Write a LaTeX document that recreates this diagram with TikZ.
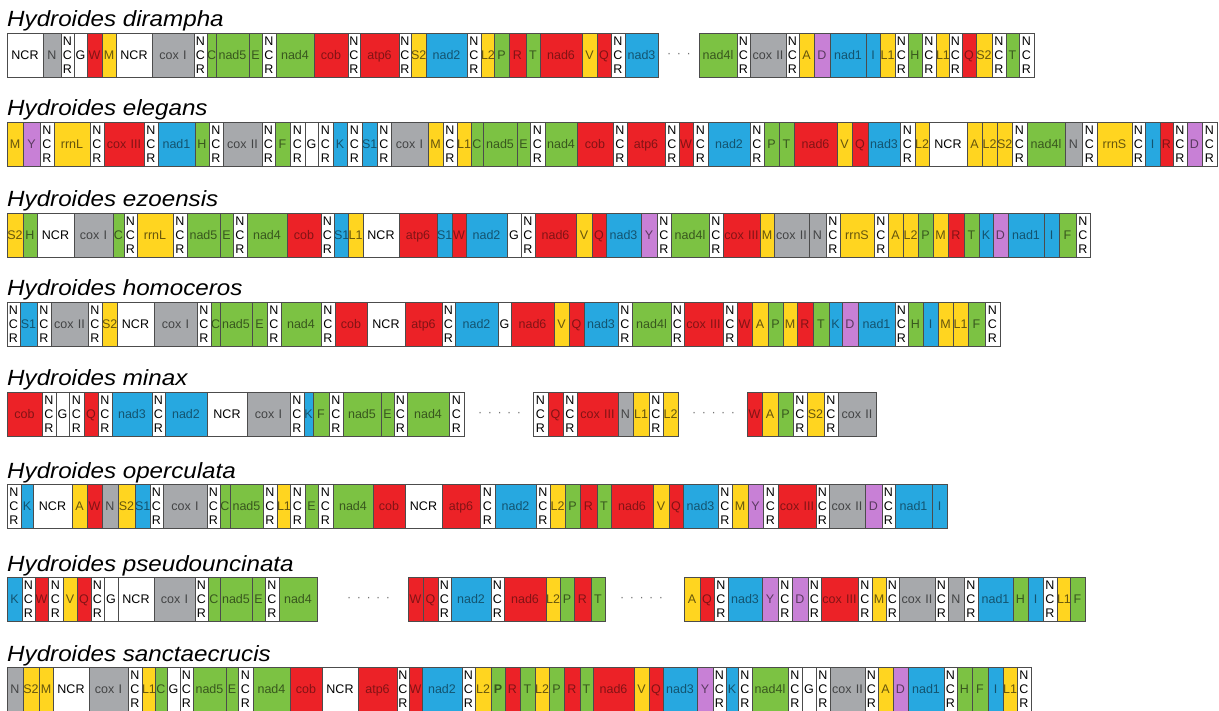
\documentclass[tikz,border=0pt]{standalone}
\usepackage{fontspec}
\setmainfont{Liberation Sans}
\usepackage{graphicx}
\usepackage{xcolor}
\usepackage{tikz}
\usetikzlibrary{positioning}
\definecolor{gcy}{HTML}{FFD520}
\definecolor{gcg}{HTML}{7CC243}
\definecolor{gcr}{HTML}{EC2227}
\definecolor{gcb}{HTML}{27A8E0}
\definecolor{gck}{HTML}{A7A9AC}
\definecolor{gcp}{HTML}{C880D6}
\definecolor{gcw}{HTML}{FFFFFF}
\colorlet{gcn}{gcw}
\colorlet{tcy}{gcy!40!black}
\colorlet{tcg}{gcg!45!black}
\colorlet{tcr}{gcr!55!black}
\colorlet{tcb}{gcb!50!black}
\colorlet{tck}{gck!40!black}
\colorlet{tcp}{gcp!45!black}
\colorlet{tcw}{black}
\colorlet{tcn}{black}
\colorlet{edge}{black!70}
\newcommand\genefont{\fontsize{12.5}{14}\selectfont}
\newcommand\ncr{N\\C\\R}
\newcommand\species[1]{\scalebox{1.1}[1]{#1}}
\newcommand\generow[3]{%
  \coordinate (#1-0) at #2;
  \foreach \gw/\gt/\gl [count=\i, remember=\i as \j (initially 0)] in {#3}
    \node[gene/.expand once=\gt, minimum width=\gw pt, text width=\gw pt, right=0pt of #1-\j] (#1-\i) {\gl};
}

\begin{document}
\begin{tikzpicture}[x=1pt,y=1pt]
    \tikzset{gene/.style={draw=edge,line width=0.8pt,fill=gc#1,text=tc#1,minimum height=44pt,inner sep=0pt,outer sep=0pt,
                          align=center,font=\genefont,text height=9pt,text depth=0pt,gene #1/.try},
             gene n/.style={text depth=28pt},
             title/.style={anchor=base west,inner sep=0pt,font=\fontsize{22}{26}\selectfont\itshape},
             gap/.style={inner sep=0pt,font=\genefont,text=black!55}}
    \useasboundingbox (0,0) rectangle (1219,-711);

    \node[title] (dira-t) at (7,-27) {\species{Hydroides dirampha}};
    \generow{dira}{(7,-55)}{36/w/NCR,18/k/N,13/n/\ncr,13/w/G,15/r/W,14/y/M,36/w/NCR,42/k/cox I,13/n/\ncr,9/g/C,
      33/g/nad5,13/g/E,14/n/\ncr,38/g/nad4,34/r/cob,12/n/\ncr,39/r/atp6,12/n/\ncr,15/y/S2,41/b/nad2,14/n/\ncr,
      13/y/L2,15/g/P,17/r/R,14/g/T,42/r/nad6,15/y/V,14/r/Q,14/n/\ncr,33/b/nad3}
    \node[gap,right=9pt of dira-30] (dira-gap) {·\hspace{5.5pt}·\hspace{5.5pt}·};
    \generow{dirb}{(699,-55)}{38/g/nad4l,13/n/\ncr,36/k/cox II,13/n/\ncr,15/y/A,16/p/D,36/b/nad1,14/b/I,15/y/L1,
      13/n/\ncr,14/g/H,14/n/\ncr,13/y/L1,13/n/\ncr,14/r/Q,16/y/S2,14/n/\ncr,13/g/T,15/n/\ncr}

    \node[title] (eleg-t) at (7,-116) {\species{Hydroides elegans}};
    \generow{eleg}{(7,-144)}{16/y/M,17/p/Y,14/n/\ncr,36/y/rrnL,14/n/\ncr,40/r/cox III,14/n/\ncr,37/b/nad1,14/g/H,
      14/n/\ncr,39/k/cox II,13/n/\ncr,15/g/F,15/n/\ncr,13/w/G,15/n/\ncr,14/b/K,15/n/\ncr,15/b/S1,14/n/\ncr,
      37/k/cox I,15/y/M,14/n/\ncr,14/y/L1,12/g/C,34/g/nad5,13/g/E,15/n/\ncr,32/g/nad4,36/r/cob,14/n/\ncr,
      38/r/atp6,14/n/\ncr,14/r/W,15/n/\ncr,42/b/nad2,14/n/\ncr,15/g/P,15/g/T,43/r/nad6,15/y/V,16/r/Q,
      32/b/nad3,15/n/\ncr,14/y/L2,38/w/NCR,15/y/A,15/y/L2,15/y/S2,15/n/\ncr,38/g/nad4l,17/k/N,15/n/\ncr,
      35/y/rrnS,13/n/\ncr,15/b/I,13/r/R,14/n/\ncr,15/p/D,15/n/\ncr}

    \node[title] (ezoe-t) at (7,-207) {\species{Hydroides ezoensis}};
    \generow{ezoe}{(7,-235)}{16/y/S2,14/g/H,37/w/NCR,39/k/cox I,11/g/C,13/n/\ncr,36/y/rrnL,14/n/\ncr,33/g/nad5,
      13/g/E,14/n/\ncr,40/g/nad4,34/r/cob,13/n/\ncr,14/b/S1,15/y/L1,36/w/NCR,38/r/atp6,15/b/S1,14/r/W,
      41/b/nad2,14/w/G,14/n/\ncr,41/r/nad6,16/y/V,14/r/Q,35/b/nad3,16/p/Y,14/n/\ncr,38/g/nad4l,14/n/\ncr,
      37/r/cox III,14/y/M,35/k/cox II,17/k/N,14/n/\ncr,34/y/rrnS,14/n/\ncr,15/y/A,15/y/L2,15/g/P,15/y/M,
      16/r/R,15/g/T,14/b/K,15/p/D,36/b/nad1,15/b/I,17/g/F,14/n/\ncr}

    \node[title] (homo-t) at (7,-296) {\species{Hydroides homoceros}};
    \generow{homo}{(7,-324)}{13/n/\ncr,17/b/S1,14/n/\ncr,37/k/cox II,14/n/\ncr,15/y/S2,37/w/NCR,43/k/cox I,
      14/n/\ncr,9/g/C,32/g/nad5,15/g/E,14/n/\ncr,40/g/nad4,14/n/\ncr,32/r/cob,38/w/NCR,37/r/atp6,13/n/\ncr,
      43/b/nad2,13/w/G,43/r/nad6,15/y/V,15/r/Q,34/b/nad3,14/n/\ncr,39/g/nad4l,13/n/\ncr,39/r/cox III,
      14/n/\ncr,15/r/W,16/y/A,15/g/P,14/y/M,16/r/R,16/g/T,13/b/K,16/p/D,37/b/nad1,13/n/\ncr,15/g/H,15/b/I,
      15/y/M,15/y/L1,17/g/F,15/n/\ncr}

    \node[title] (mina-t) at (7,-386) {\species{Hydroides minax}};
    \generow{mina}{(7,-414)}{35/r/cob,14/n/\ncr,13/w/G,15/n/\ncr,14/r/Q,14/n/\ncr,40/b/nad3,13/n/\ncr,42/b/nad2,
      40/w/NCR,43/k/cox I,14/n/\ncr,9/b/K,16/g/F,14/n/\ncr,38/g/nad5,13/g/E,13/n/\ncr,42/g/nad4,15/n/\ncr}
    \node[gap,right=14pt of mina-20] (mina-gap) {·\hspace{5.5pt}·\hspace{5.5pt}·\hspace{5.5pt}·\hspace{5.5pt}·};
    \generow{minb}{(533,-414)}{15/n/\ncr,15/r/Q,14/n/\ncr,41/r/cox III,15/k/N,16/y/L1,14/n/\ncr,15/y/L2}
    \node[gap,right=14pt of minb-8] (minb-gap) {·\hspace{5.5pt}·\hspace{5.5pt}·\hspace{5.5pt}·\hspace{5.5pt}·};
    \generow{minc}{(747,-414)}{15/r/W,16/y/A,15/g/P,14/n/\ncr,17/y/S2,14/n/\ncr,38/k/cox II}

    \node[title] (oper-t) at (7,-478) {\species{Hydroides operculata}};
    \generow{oper}{(7,-506)}{14/n/\ncr,12/b/K,39/w/NCR,15/y/A,15/r/W,16/k/N,17/y/S2,15/b/S1,13/n/\ncr,44/k/cox I,
      13/n/\ncr,10/g/C,33/g/nad5,14/n/\ncr,13/y/L1,15/n/\ncr,13/g/E,15/n/\ncr,40/g/nad4,32/r/cob,37/w/NCR,
      38/r/atp6,15/n/\ncr,41/b/nad2,14/n/\ncr,15/y/L2,15/g/P,17/r/R,14/g/T,42/r/nad6,16/y/V,14/r/Q,
      35/b/nad3,14/n/\ncr,16/y/M,15/p/Y,15/n/\ncr,38/r/cox III,13/n/\ncr,36/k/cox II,17/p/D,13/n/\ncr,
      37/b/nad1,15/b/I}

    \node[title] (pseu-t) at (7,-571) {\species{Hydroides pseudouncinata}};
    \generow{pseu}{(7,-599)}{15/b/K,13/n/\ncr,13/r/W,15/n/\ncr,14/y/V,14/r/Q,13/n/\ncr,14/w/G,36/w/NCR,41/k/cox I,
      13/n/\ncr,12/g/C,32/g/nad5,13/g/E,14/n/\ncr,38/g/nad4}
    \node[gap,right=30pt of pseu-16] (pseu-gap) {·\hspace{5.5pt}·\hspace{5.5pt}·\hspace{5.5pt}·\hspace{5.5pt}·};
    \generow{pseb}{(408,-599)}{15/r/W,15/r/Q,13/n/\ncr,40/b/nad2,13/n/\ncr,42/r/nad6,14/y/L2,14/g/P,17/r/R,14/g/T}
    \node[gap,right=15pt of pseb-10] (pseb-gap) {·\hspace{5.5pt}·\hspace{5.5pt}·\hspace{5.5pt}·\hspace{5.5pt}·};
    \generow{psec}{(684,-599)}{16/y/A,14/r/Q,14/n/\ncr,34/b/nad3,16/p/Y,14/n/\ncr,16/p/D,13/n/\ncr,37/r/cox III,
      14/n/\ncr,14/y/M,13/n/\ncr,36/k/cox II,13/n/\ncr,16/k/N,14/n/\ncr,35/b/nad1,15/g/H,15/b/I,14/n/\ncr,
      13/y/L1,15/g/F}

    \node[title] (sanc-t) at (7,-661) {\species{Hydroides sanctaecrucis}};
    \generow{sanc}{(7,-689)}{16/k/N,16/y/S2,14/y/M,36/w/NCR,39/k/cox I,14/n/\ncr,13/y/L1,12/g/C,13/w/G,13/n/\ncr,
      33/g/nad5,12/g/E,15/n/\ncr,37/g/nad4,32/r/cob,36/w/NCR,39/r/atp6,12/n/\ncr,13/r/W,40/b/nad2,13/n/\ncr,
      16/y/L2,14/g/\textbf{P},15/r/R,15/g/T,14/y/L2,15/g/P,16/r/R,13/g/T,41/r/nad6,15/y/V,14/r/Q,34/b/nad3,
      16/p/Y,13/n/\ncr,12/b/K,14/n/\ncr,36/g/nad4l,14/n/\ncr,14/w/G,14/n/\ncr,35/k/cox II,13/n/\ncr,15/y/A,
      15/p/D,36/b/nad1,13/n/\ncr,15/g/H,16/g/F,15/b/I,14/y/L1,14/n/\ncr}
\end{tikzpicture}
\end{document}
